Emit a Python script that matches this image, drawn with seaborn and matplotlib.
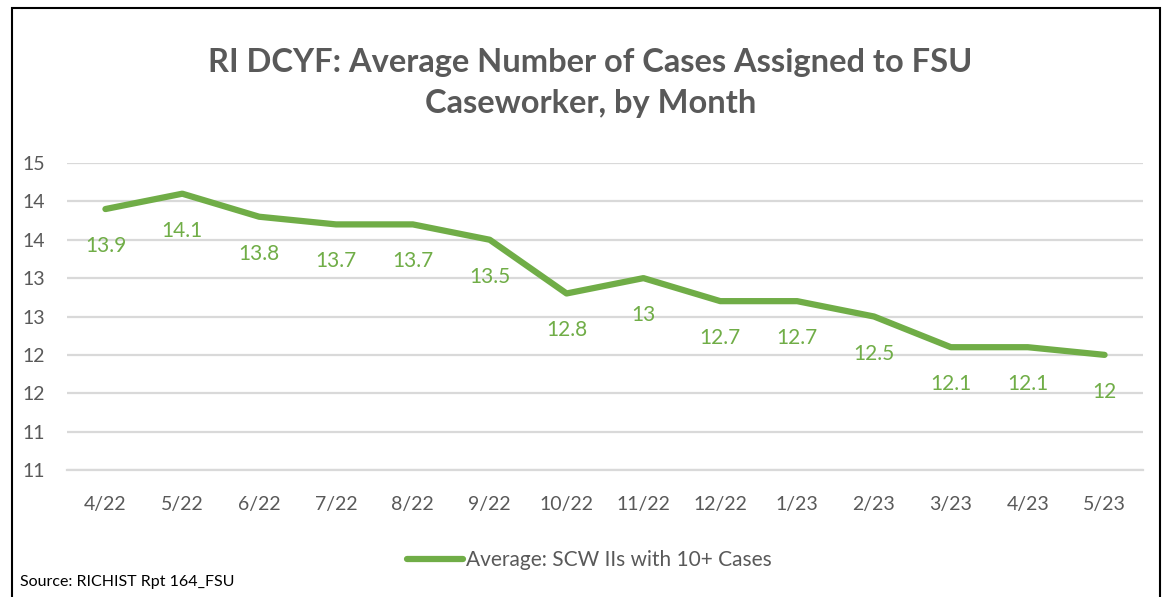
import numpy as np
import pandas as pd
import matplotlib
matplotlib.use("Agg")
import matplotlib.pyplot as plt
import seaborn as sns
from matplotlib.patches import Rectangle
from matplotlib.lines import Line2D

sns.set_theme(style="white")
plt.rcParams['font.family'] = ['Lato', 'DejaVu Sans']

months = ["4/22", "5/22", "6/22", "7/22", "8/22", "9/22", "10/22", "11/22",
          "12/22", "1/23", "2/23", "3/23", "4/23", "5/23"]
avg_cases = [13.9, 14.1, 13.8, 13.7, 13.7, 13.5, 12.8, 13.0,
             12.7, 12.7, 12.5, 12.1, 12.1, 12.0]
point_labels = ["13.9", "14.1", "13.8", "13.7", "13.7", "13.5", "12.8", "13",
                "12.7", "12.7", "12.5", "12.1", "12.1", "12"]
ytick_values = [10.5, 11.0, 11.5, 12.0, 12.5, 13.0, 13.5, 14.0, 14.5]
ytick_labels = ["11", "11", "12", "12", "13", "13", "14", "14", "15"]

series_name = "Average: SCW IIs with 10+ Cases"
green = "#70AD47"
grey_text = "#595959"
grid_col = "#D9D9D9"

df = pd.DataFrame({"month": months, "value": avg_cases})

fig = plt.figure(figsize=(11.67, 5.97), dpi=100)
ax = fig.add_axes([67 / 1167, 1 - 470 / 597, (1143 - 67) / 1167, (470 - 163) / 597])

sns.lineplot(data=df, x="month", y="value", ax=ax, color=green, linewidth=4.5,
             sort=False, solid_capstyle="round", solid_joinstyle="round")

for i, (v, lab) in enumerate(zip(avg_cases, point_labels)):
    ax.annotate(lab, (i, v), xytext=(0, -37), textcoords="offset pixels",
                ha="center", va="center", color=green, fontsize=15)

ax.set_xlim(-0.5, len(months) - 0.5)
ax.set_ylim(10.5, 14.5)
ax.set_yticks(ytick_values)
ax.set_yticklabels(ytick_labels)
ax.set_xticks(range(len(months)))
ax.set_xticklabels(months)
ax.yaxis.grid(True, color=grid_col, linewidth=1.6)
ax.set_axisbelow(True)
ax.set_xlabel("")
ax.set_ylabel("")
for s in ["top", "right", "left"]:
    ax.spines[s].set_visible(False)
ax.spines["bottom"].set_color(grid_col)
ax.spines["bottom"].set_linewidth(1.6)
ax.tick_params(axis="y", length=0, labelsize=14, labelcolor=grey_text, pad=16)
ax.tick_params(axis="x", length=0, labelsize=14, labelcolor=grey_text, pad=19)

# category boundary ticks
ax.set_xticks(np.arange(-0.5, len(months), 1.0), minor=True)
ax.tick_params(axis="x", which="minor", length=7, width=1.6, color=grid_col, direction="out")

fig.text(0.506, 1 - 83 / 597, "RI DCYF: Average Number of Cases Assigned to FSU\nCaseworker, by Month",
         ha="center", va="center", fontsize=23.5, fontweight="bold", color=grey_text,
         linespacing=1.5)

handle = Line2D([], [], color=green, linewidth=4.5, solid_capstyle="round")
fig.legend([handle], [series_name], loc="center", bbox_to_anchor=(0.505, 1 - 560 / 597),
           frameon=False, fontsize=15, labelcolor=grey_text, handlelength=2.7,
           handletextpad=0.15)

fig.text(20 / 1167, 1 - 582 / 597, "Source: RICHIST Rpt 164_FSU", ha="left", va="center",
         fontsize=11.5, color="black")

fig.patches.append(Rectangle((12 / 1167, -0.05), (1160 - 12) / 1167, 1.05 - 8 / 597,
                             transform=fig.transFigure, fill=False, edgecolor="black",
                             linewidth=1.5))

fig.savefig("out.png", dpi=100, facecolor="white")
